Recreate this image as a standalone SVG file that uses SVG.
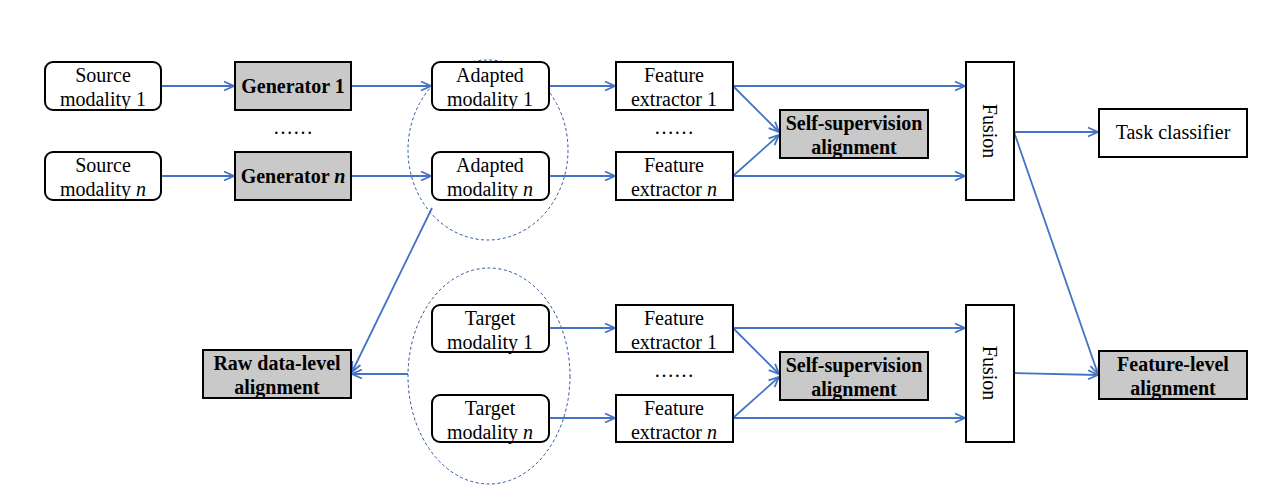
<svg xmlns="http://www.w3.org/2000/svg" width="1262" height="492" viewBox="0 0 1262 492">
<style>
.box{fill:#fff;stroke:#000;stroke-width:2}
.gbox{fill:#c9c9c9;stroke:#000;stroke-width:2}
.t{font-size:20px;fill:#000;text-anchor:middle}
.b{font-weight:bold}
.c{fill:none;stroke:#4472C4;stroke-width:1.8}
.ell{fill:none;stroke:#2F5597;stroke-width:1;stroke-dasharray:3,2.5}
</style>
<defs>
<marker id="ah" markerUnits="userSpaceOnUse" markerWidth="14" markerHeight="14" refX="11" refY="6" orient="auto" viewBox="0 0 14 12">
<path d="M1,1.5 L11,6 L1,10.5" fill="none" stroke="#4472C4" stroke-width="1.8"/>
</marker>
</defs>
<rect width="1262" height="492" fill="#fff"/>
<g font-family="Liberation Serif, Tinos, Times New Roman, DejaVu Serif, serif">

<g id="ellipse-adapted"><ellipse class="ell" cx="488" cy="150" rx="80" ry="90"/></g>
<g id="ellipse-target"><ellipse class="ell" cx="489" cy="376" rx="81" ry="108"/></g>

<g id="connectors">
<line class="c" x1="161" y1="86" x2="234" y2="86" marker-end="url(#ah)"/>
<line class="c" x1="161" y1="176" x2="234" y2="176" marker-end="url(#ah)"/>
<line class="c" x1="351" y1="86" x2="431" y2="86" marker-end="url(#ah)"/>
<line class="c" x1="351" y1="176" x2="431" y2="176" marker-end="url(#ah)"/>
<line class="c" x1="549" y1="86" x2="615" y2="86" marker-end="url(#ah)"/>
<line class="c" x1="549" y1="176" x2="615" y2="176" marker-end="url(#ah)"/>
<line class="c" x1="733" y1="86" x2="965" y2="86" marker-end="url(#ah)"/>
<line class="c" x1="733" y1="176" x2="965" y2="176" marker-end="url(#ah)"/>
<line class="c" x1="733" y1="86" x2="779" y2="132" marker-end="url(#ah)"/>
<line class="c" x1="733" y1="176" x2="779" y2="135" marker-end="url(#ah)"/>
<line class="c" x1="1014" y1="132" x2="1098" y2="132" marker-end="url(#ah)"/>
<line class="c" x1="1014" y1="132" x2="1098" y2="374" marker-end="url(#ah)"/>
<line class="c" x1="1014" y1="373" x2="1098" y2="375" marker-end="url(#ah)"/>
<line class="c" x1="432" y1="208" x2="352" y2="372" marker-end="url(#ah)"/>
<line class="c" x1="408" y1="374" x2="352" y2="374" marker-end="url(#ah)"/>
<line class="c" x1="549" y1="328" x2="615" y2="328" marker-end="url(#ah)"/>
<line class="c" x1="549" y1="418" x2="615" y2="418" marker-end="url(#ah)"/>
<line class="c" x1="733" y1="328" x2="965" y2="328" marker-end="url(#ah)"/>
<line class="c" x1="733" y1="418" x2="965" y2="418" marker-end="url(#ah)"/>
<line class="c" x1="733" y1="328" x2="779" y2="374" marker-end="url(#ah)"/>
<line class="c" x1="733" y1="418" x2="779" y2="377" marker-end="url(#ah)"/>
</g>

<g id="source1"><rect class="box" x="45" y="62" width="116" height="48" rx="8"/>
<text class="t" x="103" y="82">Source</text><text class="t" x="103" y="106">modality 1</text></g>
<g id="sourcen"><rect class="box" x="45" y="152" width="116" height="48" rx="8"/>
<text class="t" x="103" y="172">Source</text><text class="t" x="103" y="196">modality <tspan font-style="italic">n</tspan></text></g>

<g id="gen1"><rect class="gbox" x="235" y="62" width="116" height="48"/>
<text class="t b" x="293" y="93">Generator 1</text></g>
<g id="genn"><rect class="gbox" x="235" y="152" width="116" height="48"/>
<text class="t b" x="293" y="183">Generator <tspan font-style="italic">n</tspan></text></g>
<g id="dots-gen"><text class="t" x="293" y="134">……</text></g>

<g id="adapted1"><rect class="box" x="432" y="62" width="117" height="48" rx="8"/>
<text class="t" x="490" y="82">Adapted</text><text class="t" x="490" y="106">modality 1</text></g>
<g id="adaptedn"><rect class="box" x="432" y="152" width="117" height="48" rx="8"/>
<text class="t" x="490" y="172">Adapted</text><text class="t" x="490" y="196">modality <tspan font-style="italic">n</tspan></text></g>

<g id="fe1-top"><rect class="box" x="616" y="62" width="117" height="48"/>
<text class="t" x="674" y="82">Feature</text><text class="t" x="674" y="106">extractor 1</text></g>
<g id="fen-top"><rect class="box" x="616" y="152" width="117" height="48"/>
<text class="t" x="674" y="172">Feature</text><text class="t" x="674" y="196">extractor <tspan font-style="italic">n</tspan></text></g>
<g id="dots-fe-top"><text class="t" x="674" y="134">……</text></g>

<g id="ssa-top"><rect class="gbox" x="780" y="110" width="148" height="48"/>
<text class="t b" x="854" y="130">Self-supervision</text><text class="t b" x="854" y="154">alignment</text></g>

<g id="fusion-top"><rect class="box" x="966" y="62" width="48" height="138"/>
<text class="t" transform="translate(983,131) rotate(90)" x="0" y="0">Fusion</text></g>

<g id="task"><rect class="box" x="1099" y="109" width="148" height="48"/>
<text class="t" x="1173" y="139">Task classifier</text></g>

<g id="raw"><rect class="gbox" x="203" y="350" width="148" height="48"/>
<text class="t b" x="277" y="370">Raw data-level</text><text class="t b" x="277" y="394">alignment</text></g>

<g id="target1"><rect class="box" x="432" y="305" width="117" height="47" rx="8"/>
<text class="t" x="490" y="325">Target</text><text class="t" x="490" y="349">modality 1</text></g>
<g id="targetn"><rect class="box" x="432" y="395" width="117" height="47" rx="8"/>
<text class="t" x="490" y="415">Target</text><text class="t" x="490" y="439">modality <tspan font-style="italic">n</tspan></text></g>

<g id="fe1-bottom"><rect class="box" x="616" y="305" width="117" height="47"/>
<text class="t" x="674" y="325">Feature</text><text class="t" x="674" y="349">extractor 1</text></g>
<g id="fen-bottom"><rect class="box" x="616" y="395" width="117" height="47"/>
<text class="t" x="674" y="415">Feature</text><text class="t" x="674" y="439">extractor <tspan font-style="italic">n</tspan></text></g>
<g id="dots-fe-bottom"><text class="t" x="674" y="377">……</text></g>

<g id="ssa-bottom"><rect class="gbox" x="780" y="352" width="148" height="48"/>
<text class="t b" x="854" y="372">Self-supervision</text><text class="t b" x="854" y="396">alignment</text></g>

<g id="fusion-bottom"><rect class="box" x="966" y="305" width="48" height="137"/>
<text class="t" transform="translate(983,373) rotate(90)" x="0" y="0">Fusion</text></g>

<g id="feature-level"><rect class="gbox" x="1099" y="351" width="148" height="48"/>
<text class="t b" x="1173" y="371">Feature-level</text><text class="t b" x="1173" y="395">alignment</text></g>
</g>
</svg>
